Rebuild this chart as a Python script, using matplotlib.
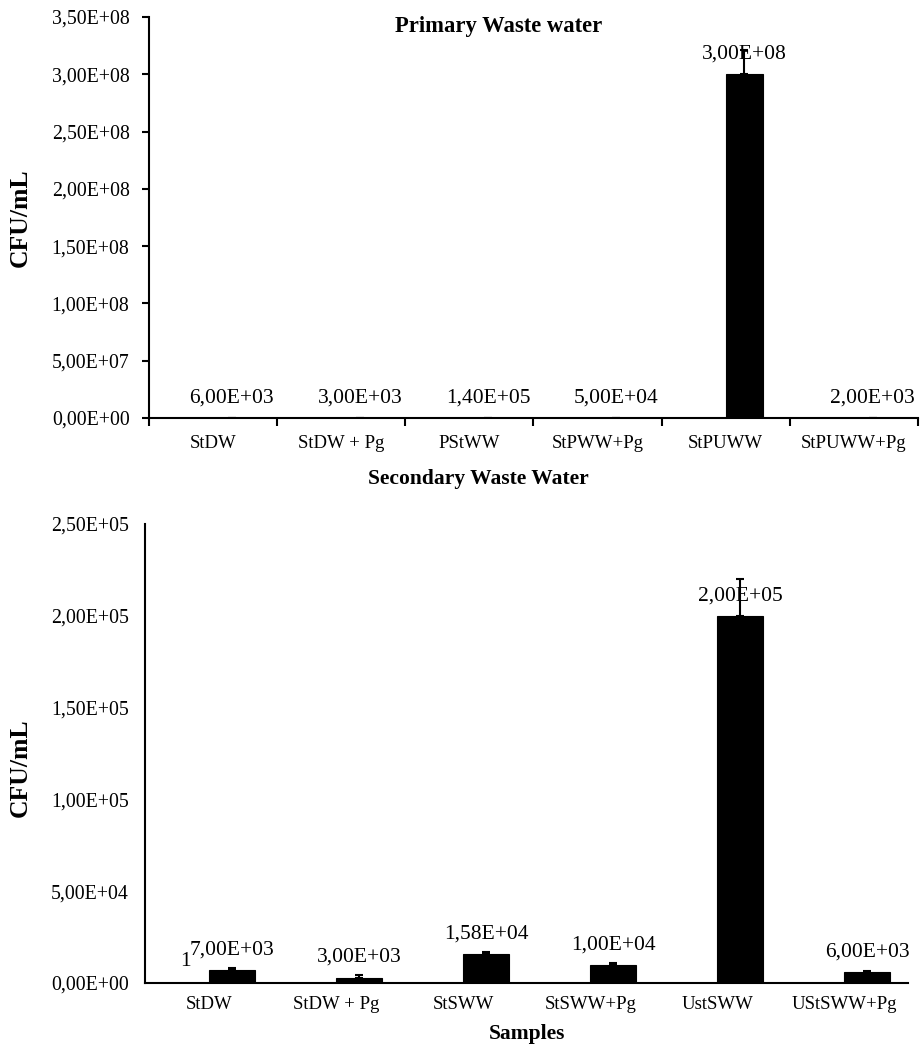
import matplotlib
matplotlib.use("Agg")
import matplotlib.pyplot as plt
import numpy as np
from matplotlib.ticker import FuncFormatter, MultipleLocator

plt.rcParams['font.family'] = ['Liberation Serif', 'DejaVu Serif']

# Primary waste water
primary_samples = ["StDW", "StDW + Pg", "PStWW", "StPWW+Pg", "StPUWW", "StPUWW+Pg"]
primary_a = [1, 0, 0, 0, 0, 0]
primary_b = [6.0e3, 3.0e3, 1.4e5, 5.0e4, 3.0e8, 2.0e3]
primary_b_err = [0, 0, 0, 0, 2.1e7, 0]
primary_labels = ["6,00E+03", "3,00E+03", "1,40E+05", "5,00E+04", "3,00E+08", "2,00E+03"]

# Secondary waste water
secondary_samples = ["StDW", "StDW + Pg", "StSWW", "StSWW+Pg", "UstSWW", "UStSWW+Pg"]
secondary_a = [1, 0, 0, 0, 0, 0]
secondary_a_labels = ["1", "", "", "", "", ""]
secondary_b = [7.0e3, 3.0e3, 1.58e4, 1.0e4, 2.0e5, 6.0e3]
secondary_b_err = [1.2e3, 1.5e3, 1.2e3, 700, 2.0e4, 700]
secondary_labels = ["7,00E+03", "3,00E+03", "1,58E+04", "1,00E+04", "2,00E+05", "6,00E+03"]


def sci_comma(v, pos):
    return ("%.2E" % v).replace(".", ",")


fig = plt.figure(figsize=(9.23, 10.49), dpi=100)
ax1 = fig.add_axes([0.1614, 0.6015, 0.9946 - 0.1614, 0.9838 - 0.6015])
ax2 = fig.add_axes([0.1576, 0.0629, 0.9837 - 0.1576, 0.5005 - 0.0629])


def draw(ax, a, b, err, labels, w, ymax, step):
    x = np.arange(len(b))
    ax.bar(x - w / 2, a, width=w, color="black", edgecolor="black", linewidth=0.8)
    ax.bar(x + w / 2, b, width=w, color="black", edgecolor="black", linewidth=0.8)
    ax.errorbar(x + w / 2, b, yerr=[np.zeros(len(err)), err], fmt="none",
                ecolor="black", elinewidth=1.5, capsize=3, capthick=1.5)
    for xi, v, lab in zip(x + w / 2, b, labels):
        ax.annotate(lab, (xi, v), xytext=(0, 20), textcoords="offset pixels",
                    ha="center", va="center", fontsize=15.5)
    ax.set_xlim(-0.5, len(b) - 0.5)
    ax.set_ylim(0, ymax)
    ax.yaxis.set_major_locator(MultipleLocator(step))
    ax.yaxis.set_major_formatter(FuncFormatter(sci_comma))
    ax.spines["top"].set_visible(False)
    ax.spines["right"].set_visible(False)
    ax.spines["left"].set_linewidth(1.5)
    ax.spines["bottom"].set_linewidth(1.5)
    ax.set_xticks(x)
    ax.set_ylabel("CFU/mL", fontsize=18.5, fontweight="bold")
    return x


# top chart
x1 = draw(ax1, primary_a, primary_b, primary_b_err, primary_labels, 0.29, 3.5e8, 5e7)
ax1.set_xticklabels(primary_samples, fontsize=13.5)
ax1.set_xticks(np.arange(-0.5, len(x1)), minor=True)
ax1.tick_params(axis="x", which="major", length=0, pad=12)
ax1.tick_params(axis="x", which="minor", length=6, width=1.5, direction="out")
ax1.tick_params(axis="y", length=5, width=1.5, direction="out", labelsize=14.3, pad=9)
ax1.yaxis.set_label_coords(-0.152, 0.5)
ax1.text(0.455, 1.002, "Primary Waste water", transform=ax1.transAxes,
         ha="center", va="top", fontsize=16.3, fontweight="bold")
ax1.set_title("Secondary Waste Water", fontsize=15.5, fontweight="bold",
              y=-0.185, x=0.428)

# bottom chart
x2 = draw(ax2, secondary_a, secondary_b, secondary_b_err, secondary_labels, 0.36, 2.5e5, 5e4)
for xi, v, lab in zip(x2 - 0.18, secondary_a, secondary_a_labels):
    if lab:
        ax2.annotate(lab, (xi, v), xytext=(-1, 22), textcoords="offset pixels",
                     ha="center", va="center", fontsize=15.5)
ax2.set_xticklabels(secondary_samples, fontsize=13.5)
ax2.tick_params(axis="x", length=0, pad=9)
ax2.tick_params(axis="y", length=0, labelsize=14.3, pad=12)
ax2.yaxis.set_label_coords(-0.149, 0.47)
ax2.set_xlabel("Samples", fontsize=15.5, fontweight="bold", labelpad=8)

fig.savefig("out.png", dpi=100)
